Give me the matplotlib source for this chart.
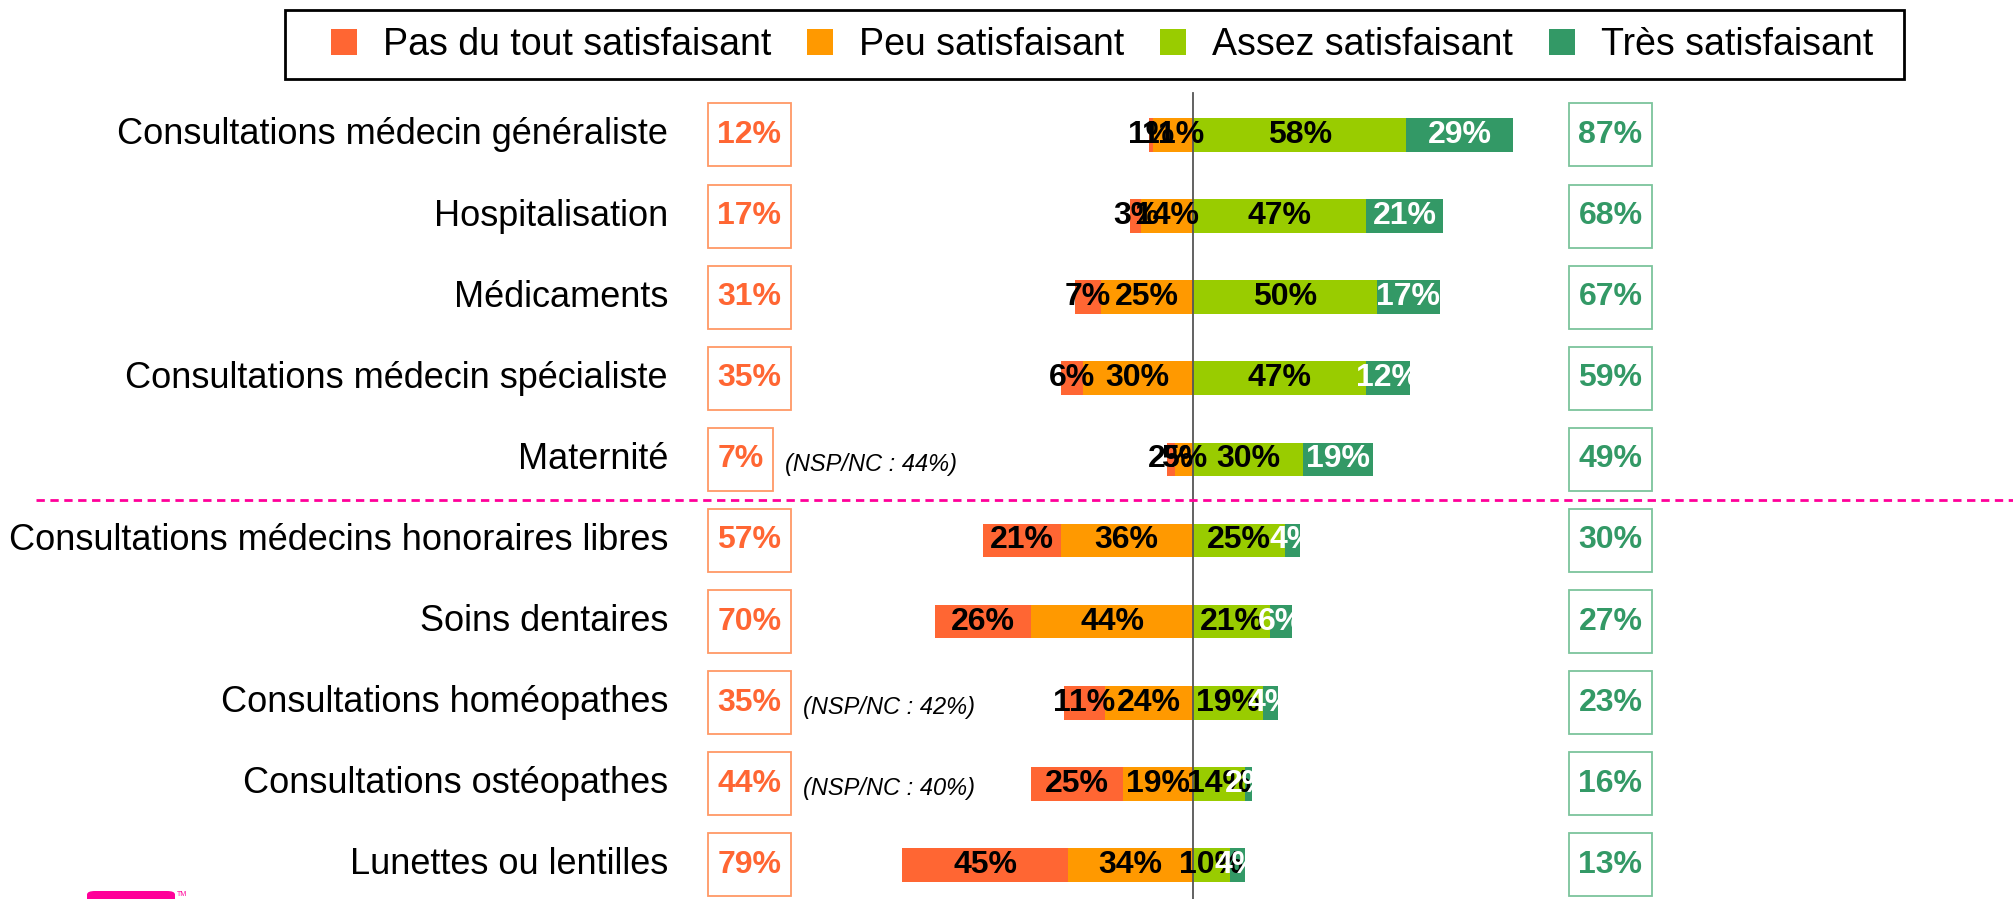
import matplotlib
matplotlib.use('Agg')
import matplotlib.pyplot as plt
from matplotlib.patches import FancyBboxPatch, Rectangle
import numpy as np

plt.rcParams['font.family'] = ['Liberation Sans', 'DejaVu Sans']

CATEGORIES = ['Consultations médecin généraliste', 'Hospitalisation', 'Médicaments',
              'Consultations médecin spécialiste', 'Maternité',
              'Consultations médecins honoraires libres', 'Soins dentaires',
              'Consultations homéopathes', 'Consultations ostéopathes',
              'Lunettes ou lentilles']
PAS_DU_TOUT = [1, 3, 7, 6, 2, 21, 26, 11, 25, 45]
PEU = [11, 14, 25, 30, 5, 36, 44, 24, 19, 34]
ASSEZ = [58, 47, 50, 47, 30, 25, 21, 19, 14, 10]
TRES = [29, 21, 17, 12, 19, 4, 6, 4, 2, 4]
TOTAL_NEG = [12, 17, 31, 35, 7, 57, 70, 35, 44, 79]
TOTAL_POS = [87, 68, 67, 59, 49, 30, 27, 23, 16, 13]
NSP_ROWS = [4, 7, 8]
NSP_VALUES = [44, 42, 40]
SERIES_NAMES = ['Pas du tout satisfaisant', 'Peu satisfaisant',
                'Assez satisfaisant', 'Très satisfaisant']

RED = '#FF6633'
ORANGE = '#FF9900'
LGREEN = '#99CC00'
DGREEN = '#339966'

W, H = 2013, 899
CX, PPU = 1193, 3.68   # centre line (px) and px per percent
ROW0, ROWSTEP = 135, 81.1

fig = plt.figure(figsize=(W / 100, H / 100), dpi=100)
ax = fig.add_axes([0, 0, 1, 1])
ax.axis('off')
ax.set_xlim(-CX / PPU, (W - CX) / PPU)
ax.set_ylim((H - ROW0) / ROWSTEP, -ROW0 / ROWSTEP)

def px(xp):
    return (xp - CX) / PPU

y = np.arange(len(CATEGORIES))
peu = np.array(PEU)
bh = 0.415
b_peu = ax.barh(y, -peu, height=bh, color=ORANGE, label=SERIES_NAMES[1])
b_pas = ax.barh(y, -np.array(PAS_DU_TOUT), left=-peu, height=bh, color=RED, label=SERIES_NAMES[0])
b_assez = ax.barh(y, ASSEZ, height=bh, color=LGREEN, label=SERIES_NAMES[2])
b_tres = ax.barh(y, TRES, left=ASSEZ, height=bh, color=DGREEN, label=SERIES_NAMES[3])

lab_kw = dict(label_type='center', fontsize=23, fontweight='bold')
ax.bar_label(b_pas, labels=[f'{v}%' for v in PAS_DU_TOUT], color='black', **lab_kw)
ax.bar_label(b_peu, labels=[f'{v}%' for v in PEU], color='black', **lab_kw)
ax.bar_label(b_assez, labels=[f'{v}%' for v in ASSEZ], color='black', **lab_kw)
ax.bar_label(b_tres, labels=[f'{v}%' for v in TRES], color='white', **lab_kw)

# centre line and separator
ax.plot([0, 0], [-0.52, 9.5], color='#555555', lw=1.3)
ax.axhline(4.5, xmin=36 / W, xmax=1, color='#FF0099', lw=2, ls=(0, (3, 2)))

# category labels
for i, cat in enumerate(CATEGORIES):
    ax.text(px(668), i, cat, ha='right', va='center', fontsize=26)

# totals, each in a box
neg_texts = [ax.text(px(717.5), i, f'{v}%', ha='left', va='center', fontsize=23,
                     fontweight='bold', color=RED, zorder=4)
             for i, v in enumerate(TOTAL_NEG)]
pos_texts = [ax.text(px(1578.5), i, f'{v}%', ha='left', va='center', fontsize=23,
                     fontweight='bold', color=DGREEN, zorder=4)
             for i, v in enumerate(TOTAL_POS)]

fig.canvas.draw()
renderer = fig.canvas.get_renderer()
inv = ax.transData.inverted()
for texts, ec in [(neg_texts, '#FF9966'), (pos_texts, '#7CC49C')]:
    for t in texts:
        bb = t.get_window_extent(renderer)
        cy = (bb.y0 + bb.y1) / 2
        (x0, y0), (x1, y1) = inv.transform([(bb.x0 - 9.5, cy - 31.5), (bb.x1 + 9.5, cy + 31.5)])
        ax.add_patch(Rectangle((x0, y0), x1 - x0, y1 - y0, fc='white', ec=ec, lw=1.3, zorder=3))

for r, v in zip(NSP_ROWS, NSP_VALUES):
    ax.annotate(f'(NSP/NC : {v}%)', xy=(1, 0.5), xycoords=neg_texts[r],
                xytext=(15.5, -3.5), textcoords='offset points', ha='left', va='center',
                fontsize=17, fontstyle='italic')

# legend: entries from the bars, frame drawn separately
leg = fig.legend(handles=[b_pas, b_peu, b_assez, b_tres], labels=SERIES_NAMES,
                 loc='center left', bbox_to_anchor=(316 / W, 1 - 45 / H), ncol=4,
                 fontsize=27, handlelength=0.69, handleheight=0.69, handletextpad=0.7,
                 columnspacing=0.95, borderpad=0.4, borderaxespad=0, frameon=False)
fig.patches.append(Rectangle((285 / W, 1 - 79 / H), (1904 - 285) / W, 69 / H,
                             transform=fig.transFigure, fc='none', ec='black', lw=2))

# logo fragment at the bottom
fig.patches.append(FancyBboxPatch((87 / W, -20 / H), 88 / W, 28 / H,
                                  boxstyle='round,pad=0,rounding_size=0.004',
                                  transform=fig.transFigure, fc='#FF0099', ec='none'))
fig.text(177 / W, 4 / H, 'TM', fontsize=5, color='#FF0099', va='center')

fig.savefig('out.png', dpi=100)
